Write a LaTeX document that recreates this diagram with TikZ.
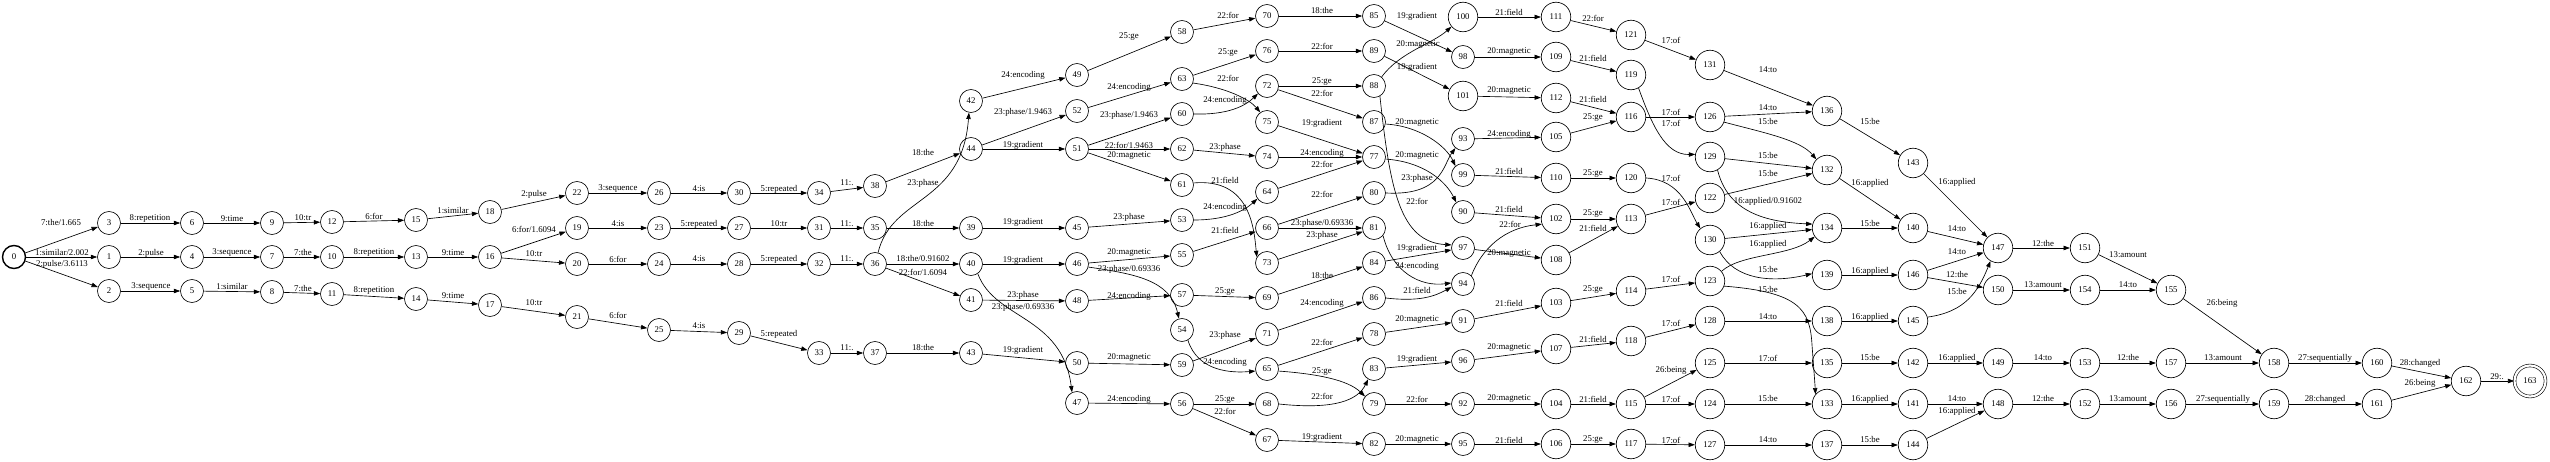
\documentclass[tikz,border=0pt]{standalone}
\usepackage{fontspec}
\setmainfont{Liberation Serif}
\usetikzlibrary{arrows.meta}
\tikzset{
  every node/.style={font=\fontsize{8.8}{10}\selectfont},
  st/.style={circle, draw, line width=0.65pt, inner sep=0pt, minimum size=23pt},
  sl/.style={circle, draw, line width=0.65pt, inner sep=0pt, minimum size=29.5pt},
  startst/.style={st, line width=1.4pt},
  finalst/.style={circle, draw, line width=0.6pt, double, double distance=2.2pt, inner sep=0pt, minimum size=31pt},
  e/.style={-{Triangle[length=6.3pt,width=4.4pt]}, line width=0.65pt},
  lab/.style={inner sep=0pt}
}
\newcommand\N[3]{\ifnum#1>99\relax\node[sl] (n#1) at (#2,#3) {#1};\else\node[st] (n#1) at (#2,#3) {#1};\fi}
\newcommand\E[5]{\draw[e] (n#1) -- (n#2) node[lab] at (#3,#4) {#5};}
\begin{document}
\begin{tikzpicture}[x=1pt,y=-1pt]
\useasboundingbox (0,0) rectangle (2550,462);
\node[startst] (n0) at (14,257) {0};
\N{1}{109}{257}\N{2}{109}{291}\N{3}{109}{223}
\N{4}{192}{257}\N{5}{192}{291}\N{6}{192}{223}
\N{7}{272}{257}\N{8}{272}{292}\N{9}{272}{223}
\N{10}{332}{257}\N{11}{332}{294}\N{12}{332}{222}
\N{13}{416}{257}\N{14}{416}{299}\N{15}{416}{220}
\N{16}{490}{257}\N{17}{490}{305}\N{18}{490}{212}
\N{19}{577}{228}\N{20}{577}{264}\N{21}{577}{317}\N{22}{577}{193}
\N{23}{659}{228}\N{24}{659}{264}\N{25}{659}{330}\N{26}{659}{193}
\N{27}{739}{228}\N{28}{739}{264}\N{29}{739}{333}\N{30}{739}{193}
\N{31}{819}{228}\N{32}{819}{264}\N{33}{819}{353}\N{34}{819}{193}
\N{35}{875}{228}\N{36}{875}{264}\N{37}{875}{353}\N{38}{875}{186}
\N{39}{971}{228}\N{40}{971}{264}\N{41}{971}{300}\N{42}{971}{101}\N{43}{971}{353}\N{44}{971}{149}
\N{45}{1077}{228}\N{46}{1077}{264}\N{47}{1077}{403}\N{48}{1077}{301}\N{49}{1077}{75}\N{50}{1077}{363}\N{51}{1077}{149}\N{52}{1077}{111}
\N{53}{1182}{220}\N{54}{1182}{330}\N{55}{1182}{255}\N{56}{1182}{404}\N{57}{1182}{295}\N{58}{1182}{32}\N{59}{1182}{365}\N{60}{1182}{114}\N{61}{1182}{185}\N{62}{1182}{149}\N{63}{1182}{79}
\N{64}{1267}{192}\N{65}{1267}{369}\N{66}{1267}{228}\N{67}{1267}{440}\N{68}{1267}{404}\N{69}{1267}{298}\N{70}{1267}{16}\N{71}{1267}{334}\N{72}{1267}{86}\N{73}{1267}{263}\N{74}{1267}{157}\N{75}{1267}{122}\N{76}{1267}{51}
\N{77}{1374}{157}\N{78}{1374}{334}\N{79}{1374}{404}\N{80}{1374}{193}\N{81}{1374}{228}\N{82}{1374}{444}\N{83}{1374}{369}\N{84}{1374}{263}\N{85}{1374}{16}\N{86}{1374}{298}\N{87}{1374}{122}\N{88}{1374}{86}\N{89}{1374}{51}
\N{90}{1463}{212}\N{91}{1463}{321}\N{92}{1463}{404}\N{93}{1463}{139}\N{94}{1463}{284}\N{95}{1463}{444}\N{96}{1463}{361}\N{97}{1463}{248}\N{98}{1463}{57}\N{99}{1463}{175}\N{100}{1463}{17}\N{101}{1463}{96}
\N{102}{1556}{219}\N{103}{1556}{303}\N{104}{1556}{404}\N{105}{1556}{137}\N{106}{1556}{444}\N{107}{1556}{349}\N{108}{1556}{260}\N{109}{1556}{57}\N{110}{1556}{178}\N{111}{1556}{17}\N{112}{1556}{98}
\N{113}{1631}{219}\N{114}{1631}{291}\N{115}{1631}{404}\N{116}{1631}{117}\N{117}{1631}{444}\N{118}{1631}{341}\N{119}{1631}{75}\N{120}{1631}{178}\N{121}{1631}{35}
\N{122}{1710}{198}\N{123}{1710}{281}\N{124}{1710}{404}\N{125}{1710}{363}\N{126}{1710}{117}\N{127}{1710}{445}\N{128}{1710}{321}\N{129}{1710}{157}\N{130}{1710}{240}\N{131}{1710}{65}
\N{132}{1827}{170}\N{133}{1827}{404}\N{134}{1827}{228}\N{135}{1827}{363}\N{136}{1827}{111}\N{137}{1827}{445}\N{138}{1827}{321}\N{139}{1827}{275}
\N{140}{1913}{228}\N{141}{1913}{404}\N{142}{1913}{363}\N{143}{1913}{163}\N{144}{1913}{445}\N{145}{1913}{321}\N{146}{1913}{275}
\N{147}{1998}{248}\N{148}{1998}{404}\N{149}{1998}{363}\N{150}{1998}{290}
\N{151}{2085}{248}\N{152}{2085}{404}\N{153}{2085}{363}\N{154}{2085}{290}
\N{155}{2171}{290}\N{156}{2171}{404}\N{157}{2171}{363}
\N{158}{2274}{363}\N{159}{2274}{404}\N{160}{2377}{363}\N{161}{2377}{404}\N{162}{2466}{381}
\node[finalst] (n163) at (2530,381) {163};
% straight edges
\E{0}{3}{61}{223}{7:the/1.665}
\E{0}{1}{62}{253}{1:similar/2.002}
\E{0}{2}{62}{264}{2:pulse/3.6113}
\E{3}{6}{150}{219}{8:repetition}
\E{6}{9}{232}{219}{9:time}
\E{9}{12}{303}{218}{10:tr}
\E{12}{15}{374}{216}{6:for}
\E{15}{18}{453}{211}{1:similar}
\E{1}{4}{151}{253}{2:pulse}
\E{4}{7}{232}{253}{3:sequence}
\E{7}{10}{303}{253}{7:the}
\E{10}{13}{374}{253}{8:repetition}
\E{13}{16}{453}{253}{9:time}
\E{2}{5}{151}{287}{3:sequence}
\E{5}{8}{232}{287}{1:similar}
\E{8}{11}{303}{289}{7:the}
\E{11}{14}{374}{291}{8:repetition}
\E{14}{17}{453}{296}{9:time}
\E{18}{22}{534}{194}{2:pulse}
\E{22}{26}{618}{189}{3:sequence}
\E{26}{30}{699}{189}{4:is}
\E{30}{34}{779}{189}{5:repeated}
\E{34}{38}{847}{183}{11:.}
\E{16}{19}{534}{229}{6:for/1.6094}
\E{19}{23}{618}{224}{4:is}
\E{23}{27}{699}{224}{5:repeated}
\E{27}{31}{779}{224}{10:tr}
\E{31}{35}{847}{224}{11:.}
\E{16}{20}{534}{254}{10:tr}
\E{20}{24}{618}{259}{6:for}
\E{24}{28}{699}{259}{4:is}
\E{28}{32}{779}{259}{5:repeated}
\E{32}{36}{847}{259}{11:.}
\E{17}{21}{534}{303}{10:tr}
\E{21}{25}{618}{315}{6:for}
\E{25}{29}{699}{326}{4:is}
\E{29}{33}{779}{334}{5:repeated}
\E{33}{37}{847}{348}{11:.}
\E{38}{44}{923}{153}{18:the}
\E{35}{39}{923}{224}{18:the}
\E{36}{40}{923}{259}{18:the/0.91602}
\E{36}{41}{923}{272}{22:for/1.6094}
\E{37}{43}{923}{348}{18:the}
\E{42}{49}{1023}{75}{24:encoding}
\E{44}{52}{1023}{112}{23:phase/1.9463}
\E{44}{51}{1023}{145}{19:gradient}
\E{39}{45}{1023}{222}{19:gradient}
\E{40}{46}{1023}{260}{19:gradient}
\E{41}{48}{1023}{295}{23:phase}
\E{43}{50}{1023}{350}{19:gradient}
\E{49}{58}{1129}{37}{25:ge}
\E{52}{63}{1129}{87}{24:encoding}
\E{51}{60}{1129}{115}{23:phase/1.9463}
\E{51}{62}{1129}{145}{22:for/1.9463}
\E{51}{61}{1129}{156}{20:magnetic}
\E{45}{53}{1129}{217}{23:phase}
\E{46}{55}{1129}{253}{20:magnetic}
\E{48}{57}{1129}{296}{24:encoding}
\E{50}{59}{1129}{358}{20:magnetic}
\E{47}{56}{1129}{399}{24:encoding}
\E{58}{70}{1228}{15}{22:for}
\E{63}{76}{1228}{53}{25:ge}
\E{62}{74}{1225}{147}{23:phase}
\E{55}{66}{1225}{230}{21:field}
\E{57}{69}{1225}{292}{25:ge}
\E{59}{71}{1225}{335}{23:phase}
\E{56}{68}{1225}{400}{25:ge}
\E{56}{67}{1225}{411}{22:for}
\E{70}{85}{1322}{11}{18:the}
\E{76}{89}{1322}{46}{22:for}
\E{72}{88}{1322}{82}{25:ge}
\E{72}{87}{1322}{93}{22:for}
\E{75}{77}{1322}{123}{19:gradient}
\E{74}{77}{1322}{153}{24:encoding}
\E{64}{77}{1322}{164}{22:for}
\E{66}{80}{1322}{194}{22:for}
\E{66}{81}{1322}{223}{23:phase/0.69336}
\E{73}{81}{1322}{235}{23:phase}
\E{69}{84}{1322}{276}{18:the}
\E{71}{86}{1322}{303}{24:encoding}
\E{65}{78}{1322}{342}{22:for}
\E{67}{82}{1322}{437}{19:gradient}
\E{85}{98}{1417}{16}{19:gradient}
\E{89}{101}{1417}{67}{19:gradient}
\E{84}{97}{1417}{248}{19:gradient}
\E{78}{91}{1417}{320}{20:magnetic}
\E{83}{96}{1417}{359}{19:gradient}
\E{79}{92}{1417}{399}{22:for}
\E{82}{95}{1417}{440}{20:magnetic}
\E{100}{111}{1509}{12}{21:field}
\E{98}{109}{1509}{52}{20:magnetic}
\E{101}{112}{1509}{91}{20:magnetic}
\E{93}{105}{1509}{134}{24:encoding}
\E{99}{110}{1509}{171}{21:field}
\E{90}{102}{1509}{209}{21:field}
\E{97}{108}{1509}{254}{20:magnetic}
\E{91}{103}{1509}{303}{21:field}
\E{96}{107}{1509}{348}{20:magnetic}
\E{92}{104}{1509}{399}{20:magnetic}
\E{95}{106}{1509}{440}{21:field}
\E{111}{121}{1593}{18}{22:for}
\E{109}{119}{1593}{58}{21:field}
\E{112}{116}{1593}{99}{21:field}
\E{105}{116}{1593}{118}{25:ge}
\E{110}{120}{1593}{174}{25:ge}
\E{102}{113}{1593}{214}{25:ge}
\E{108}{113}{1593}{228}{21:field}
\E{103}{114}{1593}{290}{25:ge}
\E{107}{118}{1593}{339}{21:field}
\E{104}{115}{1593}{399}{21:field}
\E{106}{117}{1593}{440}{25:ge}
\E{121}{131}{1671}{40}{17:of}
\E{116}{126}{1671}{112}{17:of}
\E{113}{122}{1671}{202}{17:of}
\E{114}{123}{1671}{279}{17:of}
\E{118}{128}{1671}{323}{17:of}
\E{115}{125}{1671}{370}{26:being}
\E{115}{124}{1671}{399}{17:of}
\E{117}{127}{1671}{440}{17:of}
\E{131}{136}{1768}{70}{14:to}
\E{126}{136}{1768}{108}{14:to}
\E{129}{132}{1768}{156}{15:be}
\E{122}{132}{1768}{174}{15:be}
\E{130}{134}{1768}{226}{16:applied}
\E{128}{138}{1768}{317}{14:to}
\E{125}{135}{1768}{358}{17:of}
\E{124}{133}{1768}{399}{15:be}
\E{127}{137}{1768}{440}{14:to}
\E{136}{143}{1870}{122}{15:be}
\E{132}{140}{1870}{183}{16:applied}
\E{134}{140}{1870}{224}{15:be}
\E{139}{146}{1870}{271}{16:applied}
\E{138}{145}{1870}{317}{16:applied}
\E{135}{142}{1870}{358}{15:be}
\E{133}{141}{1870}{399}{16:applied}
\E{137}{144}{1870}{440}{15:be}
\E{143}{147}{1957}{182}{16:applied}
\E{140}{147}{1957}{229}{14:to}
\E{146}{147}{1957}{252}{14:to}
\E{146}{150}{1957}{275}{12:the}
\E{142}{149}{1957}{358}{16:applied}
\E{141}{148}{1957}{399}{14:to}
\E{144}{148}{1957}{411}{16:applied}
\E{147}{151}{2043}{244}{12:the}
\E{150}{154}{2043}{285}{13:amount}
\E{149}{153}{2043}{358}{14:to}
\E{148}{152}{2043}{399}{12:the}
\E{151}{155}{2128}{255}{13:amount}
\E{154}{155}{2128}{285}{14:to}
\E{153}{157}{2128}{358}{12:the}
\E{152}{156}{2128}{399}{13:amount}
\E{155}{158}{2222}{303}{26:being}
\E{157}{158}{2223}{358}{13:amount}
\E{156}{159}{2223}{399}{27:sequentially}
\E{158}{160}{2325}{358}{27:sequentially}
\E{159}{161}{2325}{399}{28:changed}
\E{160}{162}{2420}{363}{28:changed}
\E{161}{162}{2420}{383}{26:being}
\E{162}{163}{2497}{377}{29:.}
% curved edges
\draw[e] (n36.75) .. controls (892,195) and (962,205) .. (n42.-100) node[lab] at (923,183) {23:phase};
\draw[e] (n40.-55) .. controls (995,320) and (1062,315) .. (n47.115) node[lab] at (1023,307) {23:phase/0.69336};
\draw[e] (n46.-15) .. controls (1135,274) and (1170,280) .. (n54.105) node[lab] at (1129,269) {23:phase/0.69336};
\draw[e] (n63.-20) .. controls (1228,88) and (1250,100) .. (n75.125) node[lab] at (1228,78) {22:for};
\draw[e] (n60.east) .. controls (1228,115) and (1245,106) .. (n72.-140) node[lab] at (1225,100) {24:encoding};
\draw[e] (n61.10) .. controls (1250,178) and (1254,228) .. (n73.150) node[lab] at (1225,180) {21:field};
\draw[e] (n53.east) .. controls (1228,220) and (1245,210) .. (n64.-145) node[lab] at (1225,207) {24:encoding};
\draw[e] (n54.-60) .. controls (1198,372) and (1232,373) .. (n65.190) node[lab] at (1225,362) {24:encoding};
\draw[e] (n65.-10) .. controls (1318,374) and (1348,380) .. (n79.140) node[lab] at (1322,372) {25:ge};
\draw[e] (n68.east) .. controls (1335,410) and (1358,400) .. (n83.-120) node[lab] at (1322,396) {22:for};
\draw[e] (n88.50) .. controls (1400,52) and (1432,44) .. (n100.-140) node[lab] at (1418,45) {20:magnetic};
\draw[e] (n87.-10) .. controls (1420,126) and (1446,146) .. (n99.130) node[lab] at (1417,123) {20:magnetic};
\draw[e] (n77.-10) .. controls (1425,162) and (1446,182) .. (n90.125) node[lab] at (1417,156) {20:magnetic};
\draw[e] (n80.east) .. controls (1442,196) and (1443,165) .. (n93.-130) node[lab] at (1417,178) {23:phase};
\draw[e] (n88.-60) .. controls (1390,190) and (1400,242) .. (n97.165) node[lab] at (1417,201) {22:for};
\draw[e] (n81.-40) .. controls (1392,272) and (1420,287) .. (n94.175) node[lab] at (1417,266) {24:encoding};
\draw[e] (n86.east) .. controls (1420,302) and (1435,296) .. (n94.195) node[lab] at (1417,290) {21:field};
\draw[e] (n94.45) .. controls (1482,248) and (1505,228) .. (n102.-160) node[lab] at (1510,224) {22:for};
\draw[e] (n119.-60) .. controls (1652,125) and (1665,155) .. (n129.170) node[lab] at (1671,123) {17:of};
\draw[e] (n120.east) .. controls (1682,180) and (1690,212) .. (n130.130) node[lab] at (1671,178) {17:of};
\draw[e] (n126.-20) .. controls (1765,133) and (1800,140) .. (n132.135) node[lab] at (1768,122) {15:be};
\draw[e] (n129.-60) .. controls (1728,212) and (1765,222) .. (n134.165) node[lab] at (1768,201) {16:applied/0.91602};
\draw[e] (n130.-50) .. controls (1735,280) and (1772,283) .. (n139.175) node[lab] at (1768,270) {15:be};
\draw[e] (n123.40) .. controls (1740,254) and (1790,256) .. (n134.-145) node[lab] at (1768,244) {16:applied};
\draw[e] (n123.-20) .. controls (1800,292) and (1810,310) .. (1812,345) .. controls (1814,372) and (1815,385) .. (n133.140) node[lab] at (1768,290) {15:be};
\draw[e] (n145.15) .. controls (1965,312) and (1978,292) .. (n147.-120) node[lab] at (1957,292) {15:be};
\end{tikzpicture}
\end{document}
